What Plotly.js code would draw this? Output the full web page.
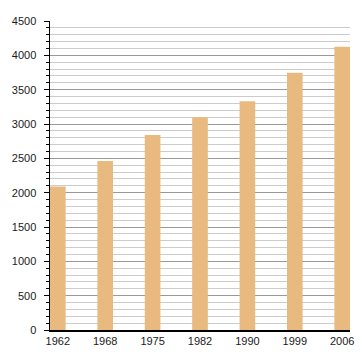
<!DOCTYPE html>
<html>
<head>
<meta charset="utf-8">
<script src="https://cdn.plot.ly/plotly-3.0.1.min.js"></script>
<style>html,body{margin:0;padding:0;background:#fff;}#chart{width:360px;height:360px;}</style>
</head>
<body>
<div id="chart"></div>
<script>
const years = ["1962", "1968", "1975", "1982", "1990", "1999", "2006"];
const population = [2090, 2461, 2840, 3097, 3330, 3747, 4125];

const data = [{
  type: "bar",
  x: years,
  y: population,
  marker: {color: "#e8ba80", line: {width: 0}},
  hoverinfo: "x+y"
}];

const layout = {
  width: 360,
  height: 360,
  margin: {l: 50, r: 10, t: 21, b: 30, pad: 0},
  paper_bgcolor: "#ffffff",
  plot_bgcolor: "#ffffff",
  showlegend: false,
  bargap: 0.67,
  font: {family: "Liberation Sans, Arial, sans-serif", size: 11, color: "#1a1a1a"},
  xaxis: {
    type: "category",
    range: [-0.165, 6.165],
    showline: true,
    linecolor: "#000",
    linewidth: 1.5,
    ticks: "",
    showgrid: false,
    zeroline: false,
    tickfont: {size: 11, color: "#1a1a1a"},
    fixedrange: true
  },
  yaxis: {
    range: [0, 4500],
    dtick: 500,
    tick0: 0,
    showline: true,
    linecolor: "#000",
    linewidth: 1.5,
    ticks: "outside",
    ticklen: 5,
    tickcolor: "#000",
    ticklabelstandoff: 5,
    showgrid: true,
    gridcolor: "#999",
    gridwidth: 1,
    zeroline: false,
    tickfont: {size: 11, color: "#1a1a1a"},
    minor: {
      dtick: 100,
      ticks: "outside",
      ticklen: 3,
      tickcolor: "#000",
      showgrid: true,
      gridcolor: "#ccc",
      gridwidth: 1
    },
    fixedrange: true
  }
};

Plotly.newPlot("chart", data, layout, {displayModeBar: false, staticPlot: true});
</script>
</body>
</html>
